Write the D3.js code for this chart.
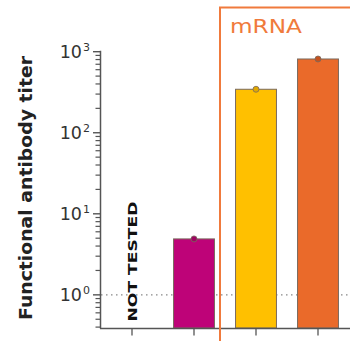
<!DOCTYPE html>
<html><head><meta charset="utf-8">
<script src="https://cdn.jsdelivr.net/npm/d3@7"></script>
<style>body{margin:0;background:#fff}svg{display:block}</style>
</head><body>
<script>
const categories = ["Not tested", "Group B", "mRNA 1", "mRNA 2"];
const values = [null, 4.9, 344, 813];
const colors = ["#ffffff", "#BE0378", "#FFC000", "#EA6A2A"];
const markerColors = ["#ffffff", "#9E0562", "#E0A800", "#C4521F"];
const yTicks = [1, 10, 100, 1000];
const yLabel = "Functional antibody titer";
const notTestedLabel = "NOT TESTED";
const groupLabel = "mRNA";

const W = 350, H = 341;
const svg = d3.select("body").append("svg").attr("width", W).attr("height", H);

const y = d3.scaleLog().domain([0.39, 1000]).range([328, 51.7]);
const x = d3.scaleBand().domain(categories).range([101, 349]).paddingInner(0.34).paddingOuter(0.17);

// dotted reference line at 10^0
svg.append("line").attr("x1", 101).attr("x2", W).attr("y1", y(1)).attr("y2", y(1))
  .attr("stroke", "#888").attr("stroke-width", 1.2).attr("stroke-dasharray", "1.5,3.5");

// bars
const data = categories.map((c, i) => ({c, v: values[i], i}));
svg.selectAll("rect.bar").data(data.filter(d => d.v != null)).join("rect")
  .attr("class", "bar")
  .attr("x", d => x(d.c)).attr("width", x.bandwidth())
  .attr("y", d => y(d.v)).attr("height", d => y.range()[0] - y(d.v))
  .attr("fill", d => colors[d.i]).attr("stroke", "#7a6a5e").attr("stroke-width", 1);

svg.selectAll("circle.pt").data(data.filter(d => d.v != null)).join("circle")
  .attr("cx", d => x(d.c) + x.bandwidth() / 2).attr("cy", d => y(d.v)).attr("r", 3)
  .attr("fill", d => markerColors[d.i]).attr("stroke", "#7a6a5e").attr("stroke-width", 0.8);

// NOT TESTED
svg.append("text").attr("transform", `translate(${x(categories[0]) + x.bandwidth() / 2 + 4.5},321.5) rotate(-90)`)
  .attr("font-family", "DejaVu Sans").attr("font-weight", "bold").attr("font-size", 13)
  .attr("textLength", 120).attr("lengthAdjust", "spacingAndGlyphs")
  .attr("fill", "#111").text(notTestedLabel);

// y axis minor + major ticks
const minor = [];
for (let e = -1; e < 3; e++) for (let m = 2; m <= 9; m++) { const v = m * Math.pow(10, e); if (v >= 0.39 && v < 1000) minor.push(v); }
svg.append("g").selectAll("line").data(minor).join("line")
  .attr("x1", 95.5).attr("x2", 100.5).attr("y1", d => y(d)).attr("y2", d => y(d))
  .attr("stroke", "#555").attr("stroke-width", 1.2);
svg.append("g").selectAll("line").data(yTicks).join("line")
  .attr("x1", 93).attr("x2", 100.5).attr("y1", d => y(d)).attr("y2", d => y(d))
  .attr("stroke", "#555").attr("stroke-width", 1.4);
svg.append("line").attr("x1", 100.5).attr("x2", 100.5).attr("y1", y(1000) - 1).attr("y2", 328.5)
  .attr("stroke", "#555").attr("stroke-width", 1.5);

// tick labels with superscripts
yTicks.forEach(v => {
  svg.append("text").attr("x", 82).attr("y", y(v) + 6.5)
    .attr("text-anchor", "end").attr("font-family", "DejaVu Sans").attr("font-size", 17.5).attr("fill", "#333").text("10");
  svg.append("text").attr("x", 83).attr("y", y(v) - 1).attr("font-family", "DejaVu Sans")
    .attr("font-size", 11).attr("fill", "#333").text(String(Math.round(Math.log10(v))));
});

// x axis
const xAxisG = svg.append("g").attr("transform", "translate(0,328.5)");
xAxisG.call(d3.axisBottom(x).tickSize(7).tickFormat(""));
xAxisG.select(".domain").attr("d", `M100,0H${W}`).attr("stroke", "#555").attr("stroke-width", 1.5);
xAxisG.selectAll(".tick line").attr("stroke", "#555").attr("stroke-width", 1.3);

// y label
svg.append("text").attr("transform", "translate(32,188) rotate(-90)").attr("text-anchor", "middle")
  .attr("font-family", "DejaVu Sans").attr("font-weight", "bold").attr("font-size", 17.5)
  .attr("textLength", 264).attr("lengthAdjust", "spacingAndGlyphs")
  .attr("fill", "#222").text(yLabel);

// mRNA box
svg.append("rect").attr("x", 220).attr("y", 7.5).attr("width", 200).attr("height", 400)
  .attr("fill", "none").attr("stroke", "#F07A3C").attr("stroke-width", 2);
svg.append("text").attr("x", 230).attr("y", 33.3).attr("font-family", "DejaVu Sans")
  .attr("font-size", 19).attr("textLength", 72).attr("lengthAdjust", "spacingAndGlyphs")
  .attr("fill", "#F07A3C").text(groupLabel);
</script>
</body></html>
